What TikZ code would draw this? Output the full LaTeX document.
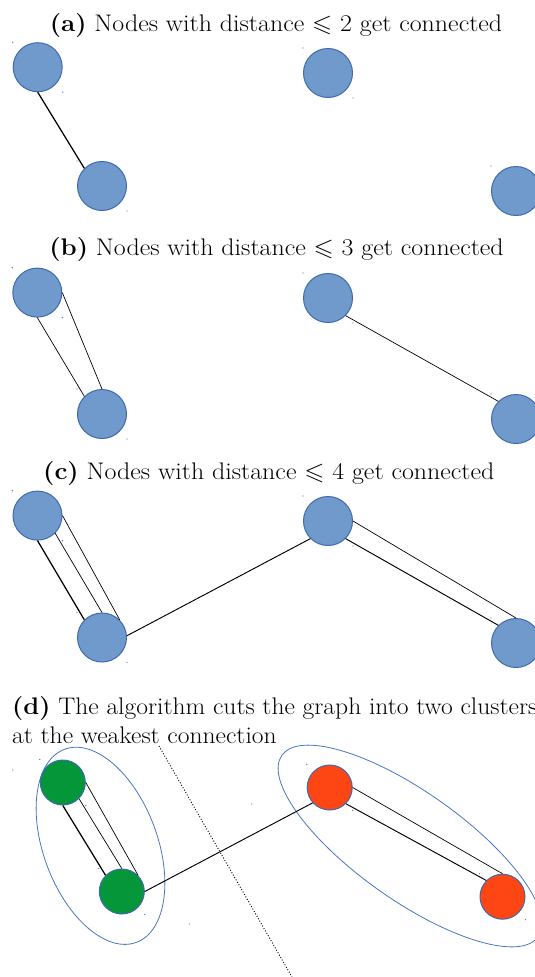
\documentclass[tikz,border=0pt]{standalone}
\usepackage{amssymb}
\usetikzlibrary{shapes.geometric}

\definecolor{nodefill}{HTML}{7099CC}
\definecolor{nodeedge}{HTML}{3F6AAE}
\definecolor{clusterA}{HTML}{05963A}
\definecolor{clusterB}{HTML}{FD4614}
\definecolor{hull}{HTML}{4A75BE}

\tikzset{
  vertex/.style={circle, inner sep=0pt, minimum size=49pt, fill=nodefill, draw=nodeedge, line width=1pt},
  gvertex/.style={vertex, minimum size=45pt, fill=clusterA},
  rvertex/.style={vertex, minimum size=45pt, fill=clusterB},
  edge/.style={line width=0.7pt},
  midedge/.style={line width=0.95pt},
  strong/.style={line width=1.25pt},
  hullline/.style={ellipse, draw=hull, line width=0.8pt, inner sep=0pt},
  cutline/.style={line width=0.9pt, dash pattern=on 1pt off 1.8pt},
  caption/.style={inner sep=0pt, font=\fontsize{24}{29}\selectfont},
  speck/.style={fill=hull},
}
% captions are set a little wider than the font's natural width
\newcommand\widecap[2]{\scalebox{#1}[1]{#2}}

\begin{document}
\begin{tikzpicture}[x=1pt, y=-1pt]
\useasboundingbox (0,0) rectangle (535,977);
\clip (0,0) rectangle (535,977);

% ---------- (a) ----------
\node[caption, anchor=base] (ta) at (276,31.4) {\widecap{1.08}{\textbf{(a)} Nodes with distance $\leqslant$ 2 get connected}};
\node[vertex] (a1) at (37.7,67.2) {};
\node[vertex] (a2) at (102,186) {};
\node[vertex] (a3) at (328,73) {};
\node[vertex] (a4) at (516,191) {};
\draw[strong] (a1.270) -- (a2.135);

% ---------- (b) ----------
\node[caption, anchor=base] (tb) at (276.5,255.6) {\widecap{1.08}{\textbf{(b)} Nodes with distance $\leqslant$ 3 get connected}};
\node[vertex] (b1) at (37.3,292.6) {};
\node[vertex] (b2) at (102,414) {};
\node[vertex] (b3) at (328,298) {};
\node[vertex] (b4) at (516,419) {};
\draw[edge] (b1.270) -- (b2.135);
\draw[edge] (b1.0) -- (b2.90);
\draw[edge] (b3.315) -- (b4.135);

% ---------- (c) ----------
\node[caption, anchor=base] (tc) at (268.8,479.9) {\widecap{1.08}{\textbf{(c)} Nodes with distance $\leqslant$ 4 get connected}};
\node[vertex] (c1) at (37.5,515.6) {};
\node[vertex] (c2) at (102,637.5) {};
\node[vertex] (c3) at (328,521) {};
\node[vertex] (c4) at (516,643) {};
\draw[strong] (c1.270) -- (c2.135);
\draw[edge] (c1.315) -- (c2.90);
\draw[edge] (c1.0) -- (c2.45);
\draw[midedge] (c2.4) -- (c3.225);
\draw[edge] (c3.0) -- (c4.90);
\draw[midedge] (c3.315) -- (c4.135);

% ---------- (d) ----------
\node[caption, anchor=base west] (td1) at (12,714.1) {\widecap{1.065}{\textbf{(d)} The algorithm cuts the graph into two clusters}};
\node[caption, anchor=base west] (td2) at (12,743.1) {\widecap{1.065}{at the weakest connection}};

\node[hullline, minimum width=206pt, minimum height=114pt, rotate=-69.6] (hullA) at (100.5,845.8) {};
\node[hullline, minimum width=314pt, minimum height=108pt, rotate=-35.3] (hullB) at (410,846) {};

\coordinate (cutTop) at (159,746);
\coordinate (cutBot) at (292,977);
\draw[cutline] (cutTop) -- (cutBot);

\node[gvertex] (d1) at (62.8,782.5) {};
\node[gvertex] (d2) at (121.8,891.5) {};
\node[rvertex] (d3) at (329.7,787.5) {};
\node[rvertex] (d4) at (502.5,896.7) {};
\draw[strong] (d1.270) -- (d2.135);
\draw[edge] (d1.315) -- (d2.90);
\draw[edge] (d1.0) -- (d2.45);
\draw[midedge] (d2.0) -- (d3.222);
\draw[edge] (d3.0) -- (d4.90);
\draw[midedge] (d3.315) -- (d4.135);

% small handle marks at the corners of each circle's box
\foreach \n in {a1,a2,a3,a4,b1,b2,b3,b4,c1,c2,c3,c4,d1,d2,d3,d4}{
  \fill[speck] (\n.north -| \n.west) circle (0.7pt);
  \fill[speck] (\n.south -| \n.east) circle (0.7pt);
}
\coordinate (s1) at (12.7,770);
\coordinate (s2) at (251.7,804);
\coordinate (s3) at (189.3,924);
\foreach \s in {s1,s2,s3}{\fill[speck] (\s) circle (0.6pt);}
\end{tikzpicture}
\end{document}
